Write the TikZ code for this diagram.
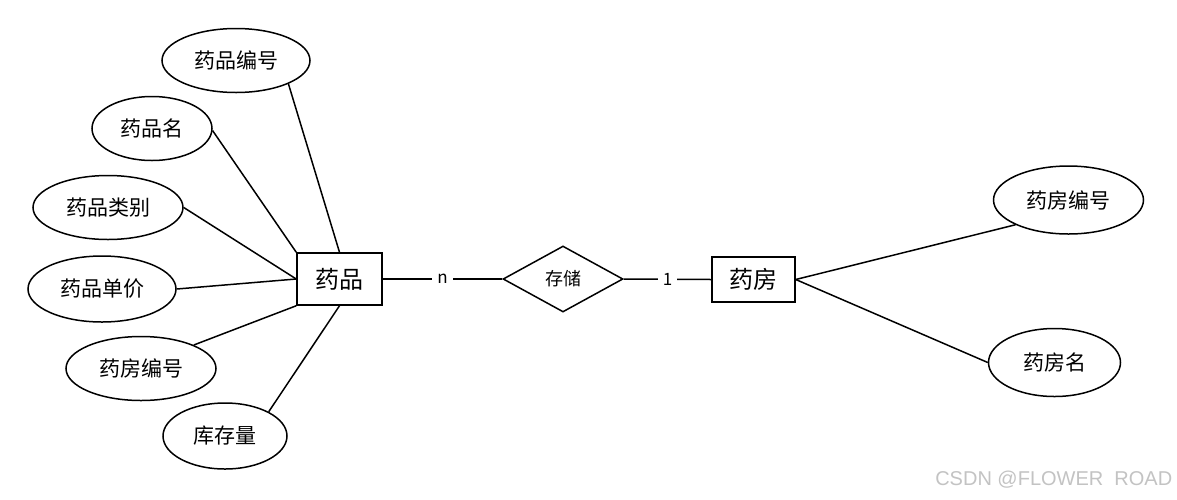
\documentclass[tikz,border=0pt]{standalone}
\usepackage{fontspec}
\setmainfont{Noto Sans CJK SC}
\newfontfamily\wmfont{Liberation Sans}
\usetikzlibrary{shapes.geometric}
\definecolor{wmgray}{RGB}{195,195,195}
\begin{document}
\begin{tikzpicture}[x=1pt,y=-1pt,line width=1.5pt,
  attr/.style={draw,ellipse,inner sep=0pt,font=\fontsize{21}{23}\selectfont},
  ent/.style={draw,rectangle,inner sep=0pt,font=\fontsize{24}{26}\selectfont},
  relbox/.style={draw,diamond,inner sep=0pt,font=\fontsize{18}{20}\selectfont},
  card/.style={fill=white,inner sep=5pt,font=\fontsize{17}{19}\selectfont}]
\useasboundingbox (0,0) rectangle (1177,499);
\fill[white] (0,0) rectangle (1177,499);
% entities
\node[ent,minimum width=85pt,minimum height=52pt] (yp) at (339.5,279) {药品};
\node[ent,minimum width=83pt,minimum height=45pt] (yf) at (753.5,279.5) {药房};
\node[relbox,minimum width=120pt,minimum height=66pt] (cc) at (563,279) {存储};
% attributes
\node[attr,minimum width=148pt,minimum height=64pt] (a1) at (236,60.5) {药品编号};
\node[attr,minimum width=120pt,minimum height=64pt] (a2) at (152,128.5) {药品名};
\node[attr,minimum width=150pt,minimum height=64pt] (a3) at (108,207.5) {药品类别};
\node[attr,minimum width=148pt,minimum height=66pt] (a4) at (102,289) {药品单价};
\node[attr,minimum width=150pt,minimum height=64pt] (a5) at (141,368.5) {药房编号};
\node[attr,minimum width=124pt,minimum height=66pt] (a6) at (225,436) {库存量};
\node[attr,minimum width=150pt,minimum height=68pt] (b1) at (1068.5,200) {药房编号};
\node[attr,minimum width=132pt,minimum height=68pt] (b2) at (1054.5,362.5) {药房名};
% connectors
\draw (a1.-24) -- (yp.north);
\draw (a2.-2) -- (yp.north west);
\draw (a3.east) -- (yp.west);
\draw (a4.east) -- (yp.west);
\draw (a5.24) -- (yp.south west);
\draw (a6.29) -- (yp.south);
\draw (yf.east) -- (b1.205);
\draw (yf.east) -- (b2.west);
\draw (yp.east) -- node[card] {n} (cc.west);
\draw (cc.east) -- node[card] {1} (yf.west);
% watermark
\node[anchor=east,text=wmgray,inner sep=0pt,font=\wmfont\fontsize{20}{22}\selectfont] (wm) at (1173,480) {CSDN @FLOWER\ \ ROAD};
\end{tikzpicture}
\end{document}
